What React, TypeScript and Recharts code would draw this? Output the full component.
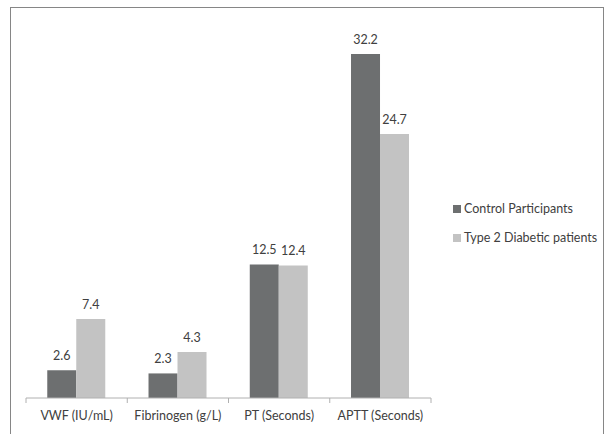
import { BarChart, Bar, XAxis, YAxis, LabelList } from 'recharts'

const categories = ['VWF (IU/mL)', 'Fibrinogen (g/L)', 'PT (Seconds)', 'APTT (Seconds)']
const controlValues = [2.6, 2.3, 12.5, 32.2]
const diabeticValues = [7.4, 4.3, 12.4, 24.7]

const series = [
  { key: 'control', name: 'Control Participants', color: '#6d6f70' },
  { key: 'diabetic', name: 'Type 2 Diabetic patients', color: '#c3c3c3' },
]

const data = categories.map((name, i) => ({
  name,
  control: controlValues[i],
  diabetic: diabeticValues[i],
}))

const FONT = 'Lato, "Liberation Sans", sans-serif'
const FONT_SIZE = 12.5
const BAND = (431 - 26) / categories.length

// Excel-style ticks: marks sit on category boundaries, not centres
const CategoryTick = (props: any) => {
  const { x, y, payload, index } = props
  const left = x - BAND / 2
  const right = x + BAND / 2
  return (
    <g>
      <line x1={left} y1={y - 8} x2={left} y2={y - 3} stroke="#b0b0b0" />
      {index === categories.length - 1 && (
        <line x1={right} y1={y - 8} x2={right} y2={y - 3} stroke="#b0b0b0" />
      )}
      <text x={x} y={y + 14} textAnchor="middle" fontSize={FONT_SIZE} fill="#404040" fontFamily={FONT}>
        {payload.value}
      </text>
    </g>
  )
}

export default function App() {
  return (
    <div style={{ position: 'absolute', left: 0, top: 0, width: 614, height: 434, overflow: 'hidden', background: '#fff' }}>
      <div
        style={{
          position: 'absolute',
          left: 10,
          top: 7,
          width: 592,
          height: 460,
          border: '1px solid #868686',
        }}
      />
      <BarChart
        width={614}
        height={434}
        data={data}
        margin={{ top: 24, right: 183, left: 26, bottom: 6 }}
        barCategoryGap="21%"
        barGap={0}
        style={{ position: 'absolute', left: 0, top: 0 }}
      >
        <XAxis
          dataKey="name"
          height={30}
          axisLine={{ stroke: '#b0b0b0' }}
          tickLine={false}
          tick={<CategoryTick />}
          interval={0}
        />
        <YAxis hide domain={[0, 35]} />
        {series.map((s) => (
          <Bar key={s.key} dataKey={s.key} name={s.name} fill={s.color} isAnimationActive={false}>
            <LabelList
              dataKey={s.key}
              position="top"
              offset={10}
              fontSize={FONT_SIZE}
              fill="#404040"
              fontFamily={FONT}
            />
          </Bar>
        ))}
      </BarChart>
      <div style={{ position: 'absolute', left: 453, top: 194, fontFamily: FONT, fontSize: FONT_SIZE, color: '#404040' }}>
        {series.map((s) => (
          <div key={s.key} style={{ display: 'flex', alignItems: 'center', height: 29, whiteSpace: 'nowrap' }}>
            <span style={{ display: 'inline-block', width: 8, height: 8, background: s.color, marginRight: 3 }} />
            {s.name}
          </div>
        ))}
      </div>
    </div>
  )
}
